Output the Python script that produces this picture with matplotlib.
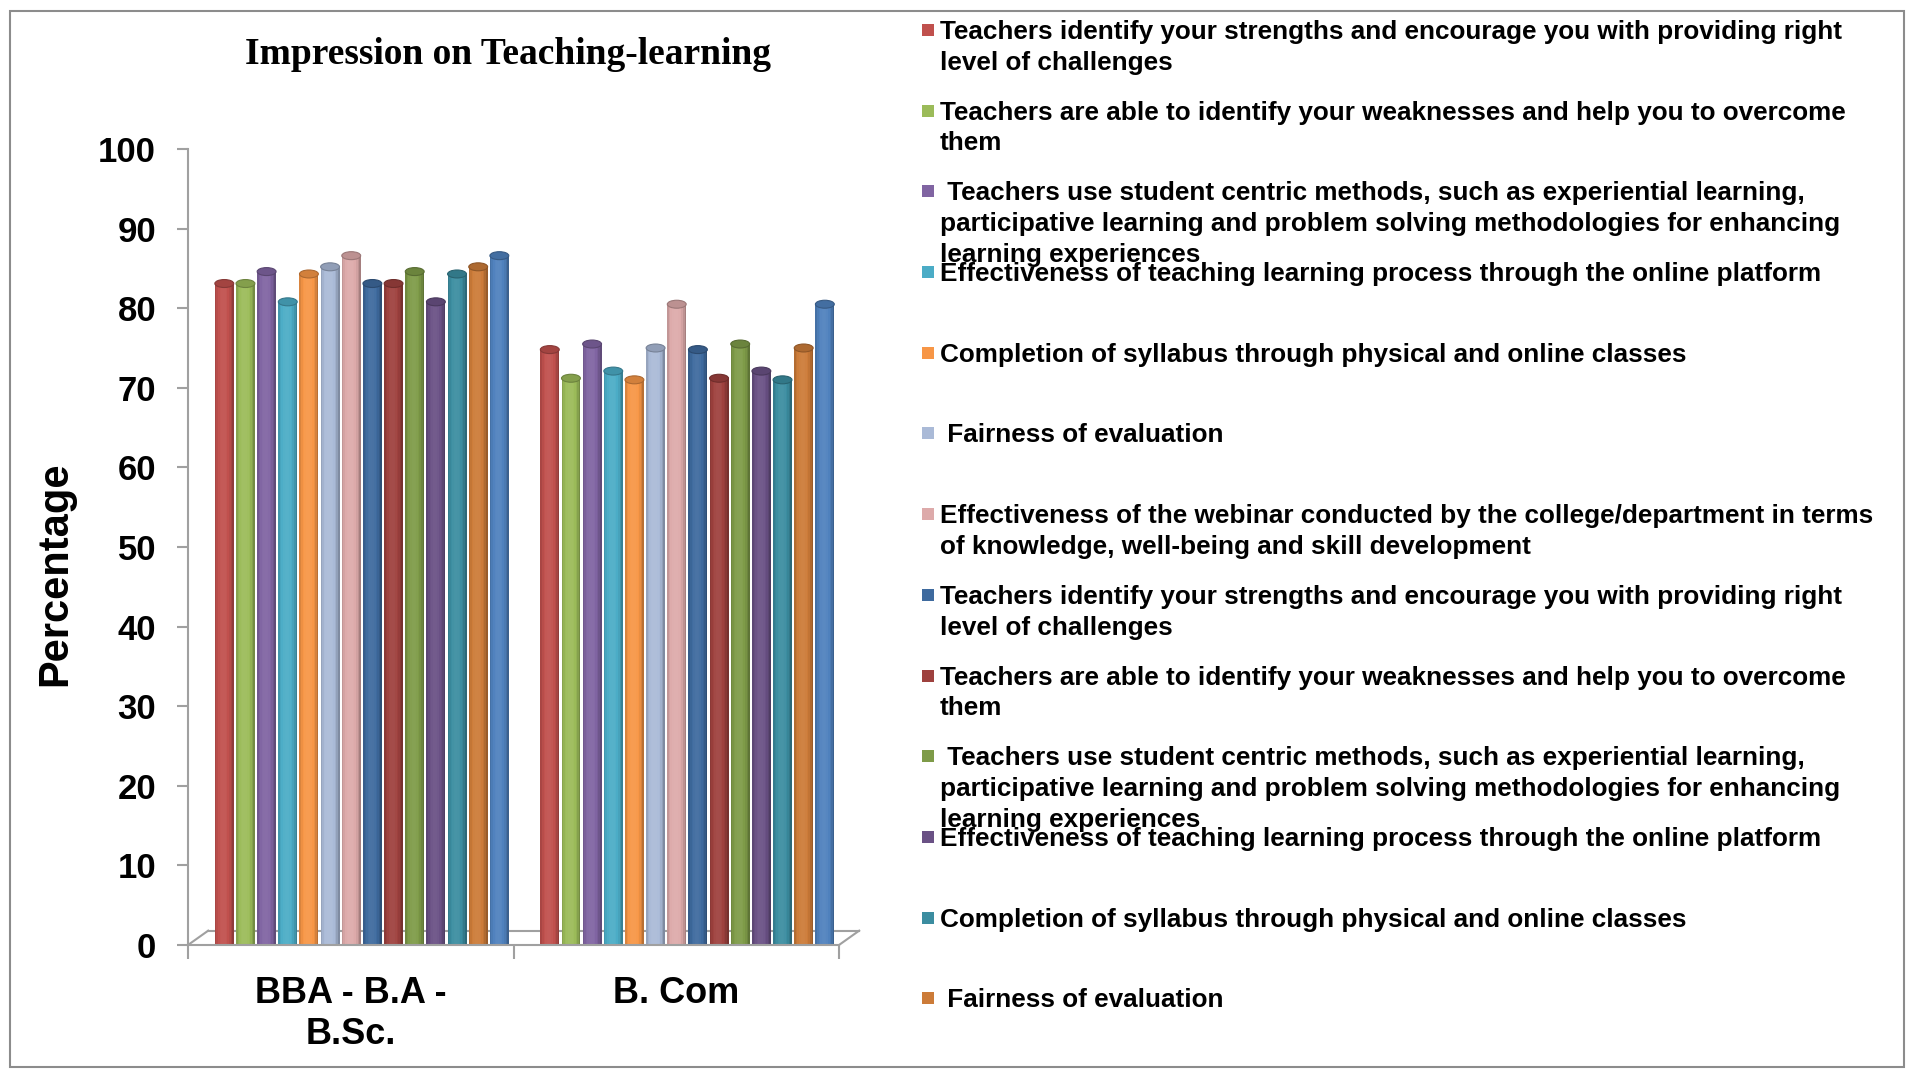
import matplotlib
matplotlib.use("Agg")
import matplotlib.pyplot as plt
from matplotlib.patches import Ellipse, Rectangle
import numpy as np

# categories and series values (percentages)
categories = ["BBA - B.A -\nB.Sc.", "B. Com"]
series_labels = [
    "Teachers identify your strengths and encourage you with providing right\nlevel of challenges",
    "Teachers are able to identify your weaknesses and help you to overcome\nthem",
    " Teachers use student centric methods, such as experiential learning,\nparticipative learning and problem solving methodologies for enhancing\nlearning experiences",
    "Effectiveness of teaching learning process through the online platform",
    "Completion of syllabus through physical and online classes",
    " Fairness of evaluation",
    "Effectiveness of the webinar conducted by the college/department in terms\nof knowledge, well-being and skill development",
    "Teachers identify your strengths and encourage you with providing right\nlevel of challenges",
    "Teachers are able to identify your weaknesses and help you to overcome\nthem",
    " Teachers use student centric methods, such as experiential learning,\nparticipative learning and problem solving methodologies for enhancing\nlearning experiences",
    "Effectiveness of teaching learning process through the online platform",
    "Completion of syllabus through physical and online classes",
    " Fairness of evaluation",
    "Effectiveness of the webinar conducted by the college/department in terms\nof knowledge, well-being and skill development",
]
bba_values = [83.1, 83.1, 84.6, 80.8, 84.3, 85.2, 86.6,
              83.1, 83.1, 84.6, 80.8, 84.3, 85.2, 86.6]
bcom_values = [74.8, 71.2, 75.5, 72.1, 71.0, 75.0, 80.5,
               74.8, 71.2, 75.5, 72.1, 71.0, 75.0, 80.5]
colors = ["#C0504D", "#9BBB59", "#8064A2", "#4BACC6", "#F79646", "#AABAD7", "#DDAAAA",
          "#3E6A9E", "#9E413E", "#7E9B48", "#6A5185", "#3B8DA0", "#CC7B38", "#4F81BD"]
yticks = [0, 10, 20, 30, 40, 50, 60, 70, 80, 90, 100]

values = np.array([bba_values, bcom_values])
n_series = len(series_labels)


def shade(c, f):
    c = np.array(matplotlib.colors.to_rgb(c))
    if f < 1:
        return tuple(c * f)
    return tuple(c + (1 - c) * (f - 1))


fig = plt.figure(figsize=(19.1, 10.7), dpi=100)
ax = fig.add_axes([188 / 1910, 125 / 1070, 651 / 1910, 796 / 1070])

slot = 0.065
bw = 0.058
nstrip = 12
for i in range(len(categories)):
    for j in range(n_series):
        x = i - 0.421 + slot * (j + 0.5)
        h = values[i, j]
        # cylinder look: thin strips darker toward the edges
        for k in range(nstrip):
            u = (k + 0.5) / nstrip
            f = 1.06 - 0.38 * abs((u - 0.45) / 0.55) ** 2.5
            ax.bar(x - bw / 2 + bw * k / nstrip, h, width=bw / nstrip * 1.05,
                   align="edge", color=shade(colors[j], f), linewidth=0, zorder=2)
        ax.add_patch(Ellipse((x, h), bw, 1.0, facecolor=shade(colors[j], 0.85),
                             edgecolor=shade(colors[j], 0.7), linewidth=0.8, zorder=3))

ax.set_xlim(-0.5, 1.5)
ax.set_ylim(0, 100)
ax.set_yticks(yticks)
ax.set_yticklabels([str(v) for v in yticks], fontsize=25, fontweight="bold",
                   family="Liberation Sans")
ax.tick_params(axis="y", direction="out", length=8, width=1.5, color="#A0A0A0", pad=15)

ax.set_xticks([-0.5, 0.5, 1.5])
ax.set_xticklabels(["", "", ""])
ax.tick_params(axis="x", which="major", direction="out", length=10, width=1.5, color="#A0A0A0")
ax.set_xticks([0, 1], minor=True)
ax.set_xticklabels(categories, minor=True, fontsize=26, fontweight="bold",
                   family="Liberation Sans", linespacing=1.25)
ax.tick_params(axis="x", which="minor", length=0, pad=22)

for s in ["top", "right"]:
    ax.spines[s].set_visible(False)
ax.spines["left"].set_color("#A0A0A0")
ax.spines["left"].set_linewidth(1.5)
ax.spines["bottom"].set_color("#A0A0A0")
ax.spines["bottom"].set_linewidth(1.5)

# 3D floor outline
dx, dy = 0.031, 0.018
for xs, ys in [([0, dx], [0, dy]), ([dx, 1 + dx], [dy, dy]), ([1, 1 + dx], [0, dy])]:
    ax.plot(xs, ys, color="#A0A0A0", linewidth=1.5, transform=ax.transAxes,
            clip_on=False, zorder=1)

fig.text(508 / 1910, 1 - 54 / 1070, "Impression on Teaching-learning", ha="center",
         va="center", fontsize=27, fontweight="bold", family="Liberation Serif")
fig.text(55 / 1910, 1 - 574 / 1070, "Percentage", rotation=90, ha="center", va="center",
         fontsize=30, fontweight="bold", family="Liberation Sans")

# legend with fixed spacing, entries below the figure edge are cut off like the original
for j in range(n_series):
    yc = 30 + 80.7 * j
    if yc > 1040:
        continue
    fig.patches.append(Rectangle((922 / 1910, 1 - (yc + 6) / 1070), 12 / 1910, 12 / 1070,
                                 transform=fig.transFigure, facecolor=colors[j],
                                 edgecolor="none"))
    fig.text(940 / 1910, 1 - (yc - 10) / 1070, series_labels[j], ha="left", va="top",
             fontsize=18.8, fontweight="bold", family="Liberation Sans", linespacing=1.35)

fig.patches.append(Rectangle((10 / 1910, 3 / 1070), 1894 / 1910, 1056 / 1070,
                             transform=fig.transFigure, facecolor="none",
                             edgecolor="#8C8C8C", linewidth=1.5))

fig.savefig("out.png", dpi=100)
